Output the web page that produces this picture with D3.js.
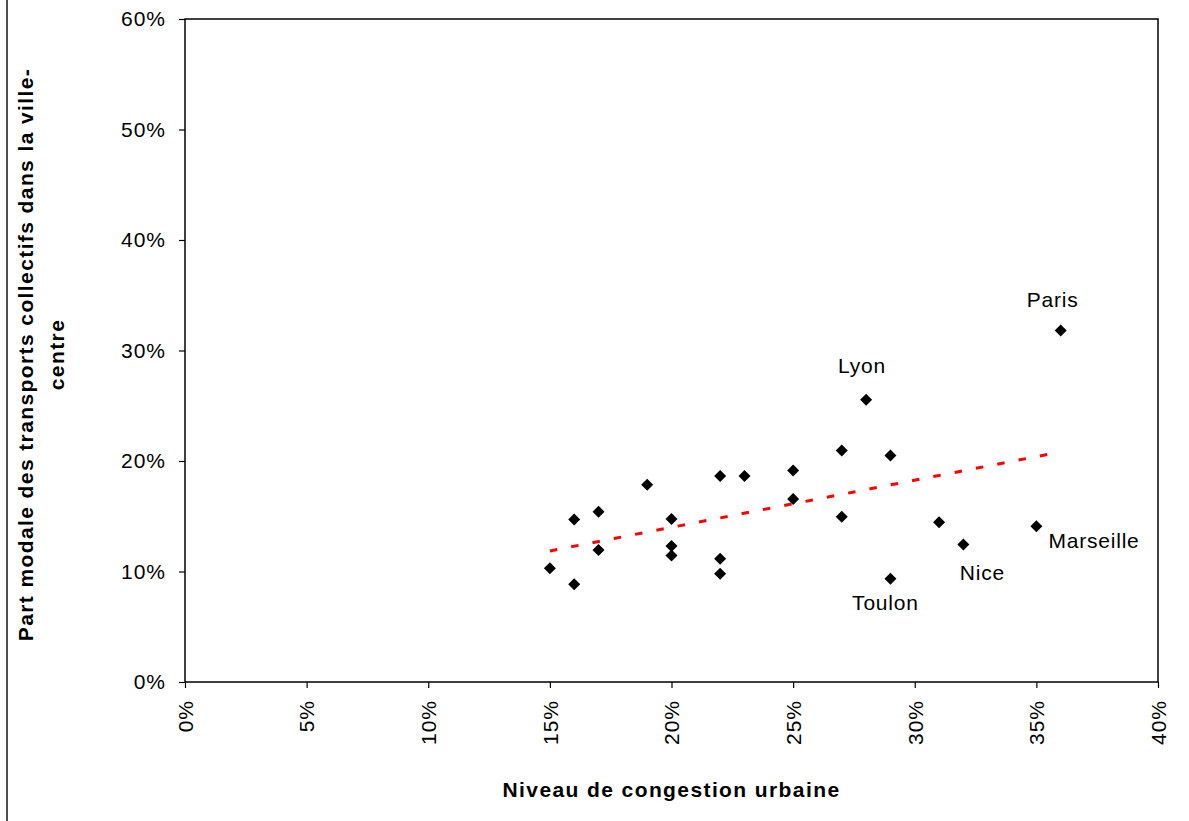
<!DOCTYPE html>
<html>
<head>
<meta charset="utf-8">
<script src="https://cdn.jsdelivr.net/npm/d3@7"></script>
<style>
  html, body { margin: 0; padding: 0; background: #fff; }
  svg { display: block; }
  text { font-family: "Liberation Sans", Arial, sans-serif; fill: #000; }
</style>
</head>
<body>
<svg id="chart" width="1189" height="821"></svg>
<script>
// ---- Data ----
const congestion = [0.15, 0.16, 0.16, 0.17, 0.17, 0.19, 0.20, 0.20, 0.20, 0.22, 0.22, 0.22,
                    0.23, 0.25, 0.25, 0.27, 0.27, 0.28, 0.29, 0.29, 0.31, 0.32, 0.35, 0.36];
const partModale = [0.103, 0.0885, 0.147, 0.154, 0.1195, 0.1785, 0.1475, 0.123, 0.1145, 0.1865, 0.1115, 0.098,
                    0.1865, 0.1915, 0.1655, 0.2095, 0.1495, 0.2555, 0.205, 0.0935, 0.1445, 0.1245, 0.141, 0.318];
const cityNames  = ["", "", "", "", "", "", "", "", "", "", "", "",
                    "", "", "", "", "", "Lyon", "", "Toulon", "", "Nice", "Marseille", "Paris"];
const xTicks = [0, 0.05, 0.10, 0.15, 0.20, 0.25, 0.30, 0.35, 0.40];
const yTicks = [0, 0.10, 0.20, 0.30, 0.40, 0.50, 0.60];
const xTitle = "Niveau de congestion urbaine";
const yTitleLines = ["Part modale des transports collectifs dans la ville-", "centre"];

// ---- Layout ----
const svg = d3.select("#chart");
const mLeft = 185, mRight = 1158, mTop = 19, mBottom = 682;

const x = d3.scaleLinear().domain([0, 0.40]).range([mLeft, mRight]);
const y = d3.scaleLinear().domain([0, 0.60]).range([mBottom, mTop]);
const pct = d3.format(".0%");

// outer frame fragment (left edge)
svg.append("line")
  .attr("x1", 7).attr("x2", 7).attr("y1", 0).attr("y2", 821)
  .attr("stroke", "#222").attr("stroke-width", 1.6);

// plot frame
svg.append("rect")
  .attr("x", mLeft).attr("y", mTop)
  .attr("width", mRight - mLeft).attr("height", mBottom - mTop)
  .attr("fill", "none").attr("stroke", "#000").attr("stroke-width", 1.5);

// y axis
const yAxis = svg.append("g")
  .attr("transform", `translate(${mLeft},0)`)
  .call(d3.axisLeft(y).tickValues(yTicks).tickFormat(pct).tickSize(6).tickPadding(13));
yAxis.select(".domain").remove();
yAxis.selectAll(".tick line").attr("stroke", "#000").attr("stroke-width", 1.2);
yAxis.selectAll(".tick text")
  .style("font-family", '"Liberation Sans", Arial, sans-serif')
  .style("font-size", "21px").style("letter-spacing", "1px").attr("fill", "#000");

// x axis
const xAxis = svg.append("g")
  .attr("transform", `translate(0,${mBottom})`)
  .call(d3.axisBottom(x).tickValues(xTicks).tickFormat(pct).tickSize(6));
xAxis.select(".domain").remove();
xAxis.selectAll(".tick line").attr("stroke", "#000").attr("stroke-width", 1.2);
xAxis.selectAll(".tick text")
  .style("font-family", '"Liberation Sans", Arial, sans-serif')
  .style("font-size", "21px").style("letter-spacing", "1px").attr("fill", "#000")
  .attr("text-anchor", "end")
  .attr("transform", "rotate(-90)")
  .attr("x", -18).attr("y", 0).attr("dy", "0.35em");

// trend line (linear least squares, as the spreadsheet trendline)
const n = congestion.length;
const mx = d3.mean(congestion), my = d3.mean(partModale);
let sxy = 0, sxx = 0;
for (let i = 0; i < n; i++) {
  sxy += (congestion[i] - mx) * (partModale[i] - my);
  sxx += (congestion[i] - mx) ** 2;
}
const slope = sxy / sxx, intercept = my - slope * mx;
const [xmin, xmax] = d3.extent(congestion);
const trend = [[xmin, intercept + slope * xmin], [xmax, intercept + slope * xmax]];
svg.append("path")
  .datum(trend)
  .attr("d", d3.line().x(d => x(d[0])).y(d => y(d[1])))
  .attr("fill", "none").attr("stroke", "#ff0000")
  .attr("stroke-width", 3).attr("stroke-dasharray", "7.5,14.2");

// points (diamonds)
const pts = congestion.map((c, i) => ({ c, p: partModale[i], name: cityNames[i] }));
const diamond = d3.symbol().type(d3.symbolSquare).size(72);
svg.append("g").selectAll("path")
  .data(pts).join("path")
  .attr("d", diamond)
  .attr("transform", d => `translate(${x(d.c)},${y(d.p)}) rotate(45)`)
  .attr("fill", "#000");

// city labels
const labelOffsets = {
  "Paris":     { dx: -8,  dy: -31, anchor: "middle" },
  "Lyon":      { dx: -4,  dy: -34, anchor: "middle" },
  "Marseille": { dx: 12,  dy: 14,  anchor: "start" },
  "Nice":      { dx: 19,  dy: 28,  anchor: "middle" },
  "Toulon":    { dx: -5,  dy: 24,  anchor: "middle" }
};
svg.append("g").selectAll("text")
  .data(pts.filter(d => d.name))
  .join("text")
  .attr("x", d => x(d.c) + labelOffsets[d.name].dx)
  .attr("y", d => y(d.p) + labelOffsets[d.name].dy)
  .attr("dy", "0.36em")
  .attr("text-anchor", d => labelOffsets[d.name].anchor)
  .style("font-size", "21px").style("letter-spacing", "0.8px")
  .text(d => d.name);

// axis titles
svg.append("text")
  .attr("x", (mLeft + mRight) / 2).attr("y", 789).attr("dy", "0.36em")
  .attr("text-anchor", "middle")
  .style("font-size", "21px").style("font-weight", "bold").style("letter-spacing", "1.4px")
  .text(xTitle);

const yt = svg.append("text")
  .attr("transform", `translate(25,${(mTop + mBottom) / 2 + 4}) rotate(-90)`)
  .attr("text-anchor", "middle")
  .style("font-size", "21px").style("font-weight", "bold").style("letter-spacing", "1.4px");
yTitleLines.forEach((line, i) => {
  yt.append("tspan").attr("x", 0).attr("y", i * 31).attr("dy", "0.36em").text(line);
});
</script>
</body>
</html>
